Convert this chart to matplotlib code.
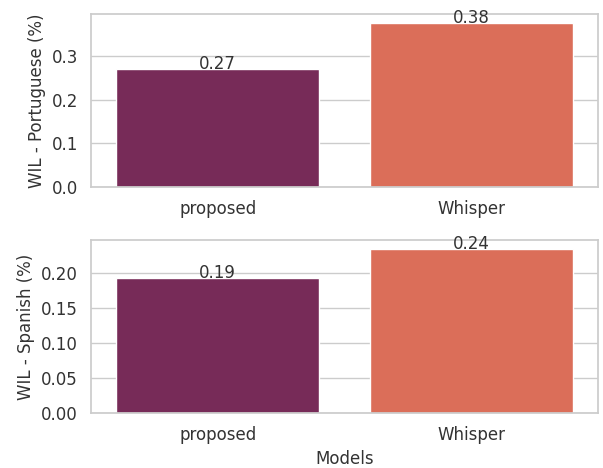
import matplotlib
matplotlib.use("Agg")
import matplotlib.pyplot as plt
import seaborn as sns

models = ["proposed", "Whisper"]
wil_portuguese = [0.27, 0.375]
wil_spanish = [0.193, 0.235]
labels_portuguese = ["0.27", "0.38"]
labels_spanish = ["0.19", "0.24"]

sns.set_theme(style="whitegrid")
palette = sns.color_palette("rocket", 2)

fig = plt.figure(figsize=(6.03, 4.68), dpi=100)
ax1 = fig.add_axes([0.1509, 0.6004, 0.8408, 0.3697])
ax2 = fig.add_axes([0.1509, 0.1175, 0.8408, 0.3697])

for ax, vals, labs, ylab, xlab in [
    (ax1, wil_portuguese, labels_portuguese, "WIL - Portuguese (%)", ""),
    (ax2, wil_spanish, labels_spanish, "WIL - Spanish (%)", "Models"),
]:
    sns.barplot(x=models, y=vals, hue=models, palette=palette, ax=ax, legend=False)
    for i, (v, l) in enumerate(zip(vals, labs)):
        ax.text(i, v, l, ha="center", va="baseline", fontsize=12, color="#333333")
    ax.set_ylabel(ylab, fontsize=12, color="#333333")
    ax.set_xlabel(xlab, fontsize=12, color="#333333")
    ax.tick_params(axis="both", labelsize=12, labelcolor="#333333")

ax1.set_ylim(0, 0.396)
ax1.set_yticks([0.0, 0.1, 0.2, 0.3])
ax2.set_ylim(0, 0.2476)
ax2.set_yticks([0.0, 0.05, 0.10, 0.15, 0.20])

fig.savefig("out.png", dpi=100)
